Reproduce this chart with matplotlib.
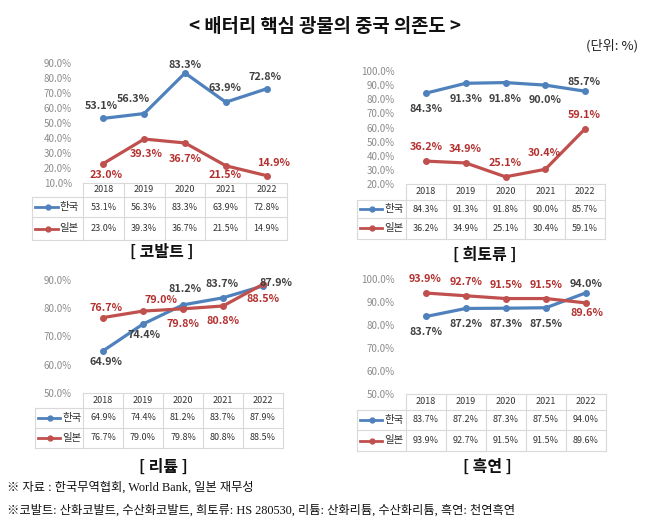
import matplotlib.pyplot as plt

plt.rcParams["font.family"] = ["Noto Sans CJK KR", "DejaVu Sans"]

W, H = 658, 526

years = ["2018", "2019", "2020", "2021", "2022"]
series_names = ["한국", "일본"]

cobalt_kr = [53.1, 56.3, 83.3, 63.9, 72.8]
cobalt_jp = [23.0, 39.3, 36.7, 21.5, 14.9]
ree_kr = [84.3, 91.3, 91.8, 90.0, 85.7]
ree_jp = [36.2, 34.9, 25.1, 30.4, 59.1]
lithium_kr = [64.9, 74.4, 81.2, 83.7, 87.9]
lithium_jp = [76.7, 79.0, 79.8, 80.8, 88.5]
graphite_kr = [83.7, 87.2, 87.3, 87.5, 94.0]
graphite_jp = [93.9, 92.7, 91.5, 91.5, 89.6]

BLUE = "#4f81bd"
RED = "#c0504d"
KR_TXT = "#404040"
JP_TXT = "#b3302e"
GRID = "#d9d9d9"

# panel layout in pixels: label col left, columns left/right, plot top, plot bottom,
# table row boundaries, y range, subtitle position, label offsets (px)
panels = [
    dict(name="[ 코발트 ]", kr=cobalt_kr, jp=cobalt_jp,
         lab=32, x0=83, x1=287, top=63, bottom=183, rows=[183, 197, 217, 240],
         ylim=(10, 90), sub=(162, 252),
         off_kr=[(-2, 12), (-11, 15), (0, 8), (-1, 14), (-2, 12)],
         off_jp=[(3, -11), (2, -15), (0, -16), (-1, -9), (7, 13)]),
    dict(name="[ 희토류 ]", kr=ree_kr, jp=ree_jp,
         lab=357, x0=406, x1=605, top=71, bottom=184, rows=[184, 200, 218, 239],
         ylim=(20, 100), sub=(485, 255),
         off_kr=[(0, -16), (0, -16), (0, -16), (0, -15), (-1, 9)],
         off_jp=[(0, 14), (0, 14), (0, 14), (-1, 16), (-1, 14)]),
    dict(name="[ 리튬 ]", kr=lithium_kr, jp=lithium_jp,
         lab=35, x0=83, x1=283, top=280, bottom=393, rows=[393, 408, 428, 448],
         ylim=(50, 90), sub=(163, 467),
         off_kr=[(3, -11), (1, -11), (2, 16), (-1, 14), (13, 3)],
         off_jp=[(3, 10), (18, 11), (0, -15), (0, -15), (0, -15)]),
    dict(name="[ 흑연 ]", kr=graphite_kr, jp=graphite_jp,
         lab=357, x0=406, x1=606, top=279, bottom=394, rows=[394, 410, 430, 451],
         ylim=(50, 100), sub=(487, 467),
         off_kr=[(0, -16), (0, -16), (0, -16), (0, -16), (0, 9)],
         off_jp=[(-1, 14), (0, 14), (0, 14), (0, 14), (1, -10)]),
]


def rect(left, top, right, bottom):
    return [left / W, 1 - bottom / H, (right - left) / W, (bottom - top) / H]


fig = plt.figure(figsize=(W / 100, H / 100), dpi=100)

fig.text(325 / W, 1 - 27 / H, "< 배터리 핵심 광물의 중국 의존도 >",
         ha="center", va="center", fontsize=13.5, fontweight="bold", color="#111111")
fig.text(638 / W, 1 - 46 / H, "(단위: %)", ha="right", va="center",
         fontsize=9.5, color="#222222")

x = list(range(len(years)))

for p in panels:
    ax = fig.add_axes(rect(p["x0"], p["top"], p["x1"], p["bottom"]))
    ax.plot(x, p["kr"], color=BLUE, lw=2.3, marker="o", ms=4, zorder=3)
    ax.plot(x, p["jp"], color=RED, lw=2.3, marker="o", ms=4, zorder=3)
    for vals, offs, col in [(p["kr"], p["off_kr"], KR_TXT), (p["jp"], p["off_jp"], JP_TXT)]:
        for i, v in enumerate(vals):
            ax.annotate(f"{v:.1f}%", (i, v), xytext=offs[i], textcoords="offset pixels",
                        ha="center", va="center", fontsize=7.8, fontweight="bold",
                        color=col, annotation_clip=False, zorder=4)
    lo, hi = p["ylim"]
    ax.set_xlim(-0.5, 4.5)
    ax.set_ylim(lo, hi)
    ax.set_yticks(range(lo, hi + 1, 10))
    ax.set_yticklabels([f"{t:.1f}%" for t in range(lo, hi + 1, 10)])
    ax.tick_params(axis="y", length=0, labelsize=7, labelcolor="#8c8c8c", pad=8)
    ax.set_xticks([])
    for s in ax.spines.values():
        s.set_visible(False)
    ax.patch.set_alpha(0)

    # data table under the plot
    w = (p["x1"] - p["x0"]) / 5
    L = (p["x0"] - p["lab"]) / w
    r = p["rows"]
    tax = fig.add_axes(rect(p["lab"], r[0], p["x1"], r[-1]))
    tax.set_xlim(-0.5 - L, 4.5)
    tax.set_ylim(r[-1], r[0])
    tax.axis("off")
    for yy in r:
        left = -0.5 if yy == r[0] else -0.5 - L
        tax.plot([left, 4.5], [yy, yy], color=GRID, lw=0.8, clip_on=False)
    tax.plot([-0.5 - L] * 2, [r[1], r[-1]], color=GRID, lw=0.8, clip_on=False)
    for k in range(6):
        tax.plot([k - 0.5] * 2, [r[0], r[-1]], color=GRID, lw=0.8, clip_on=False)
    hy = (r[0] + r[1]) / 2
    for i, yr in enumerate(years):
        tax.text(i, hy, yr, ha="center", va="center", fontsize=6.5, color="#333333")
    for j, (name, vals, col) in enumerate([(series_names[0], p["kr"], BLUE),
                                           (series_names[1], p["jp"], RED)]):
        cy = (r[j + 1] + r[j + 2]) / 2
        x_start = -0.5 - L + 0.08
        tax.plot([x_start, x_start + 0.55], [cy, cy], color=col, lw=2, clip_on=False)
        tax.plot([x_start + 0.3], [cy], color=col, marker="o", ms=3.5, clip_on=False)
        tax.text(x_start + 0.6, cy, name, ha="left", va="center", fontsize=7.5, color="#333333")
        for i, v in enumerate(vals):
            tax.text(i, cy, f"{v:.1f}%", ha="center", va="center", fontsize=6.5, color="#333333")

    fig.text(p["sub"][0] / W, 1 - p["sub"][1] / H, p["name"], ha="center", va="center",
             fontsize=11.5, fontweight="bold", color="#111111")

foot_font = ["Liberation Serif", "Noto Sans CJK KR"]
fig.text(7 / W, 1 - 488 / H, "※ 자료 : 한국무역협회, World Bank, 일본 재무성",
         ha="left", va="center", fontsize=8.8, family=foot_font, color="#111111")
fig.text(7 / W, 1 - 511 / H,
         "※코발트: 산화코발트, 수산화코발트, 희토류: HS 280530, 리튬: 산화리튬, 수산화리튬, 흑연: 천연흑연",
         ha="left", va="center", fontsize=8.8, family=foot_font, color="#111111")

fig.savefig("out.png", dpi=100)
